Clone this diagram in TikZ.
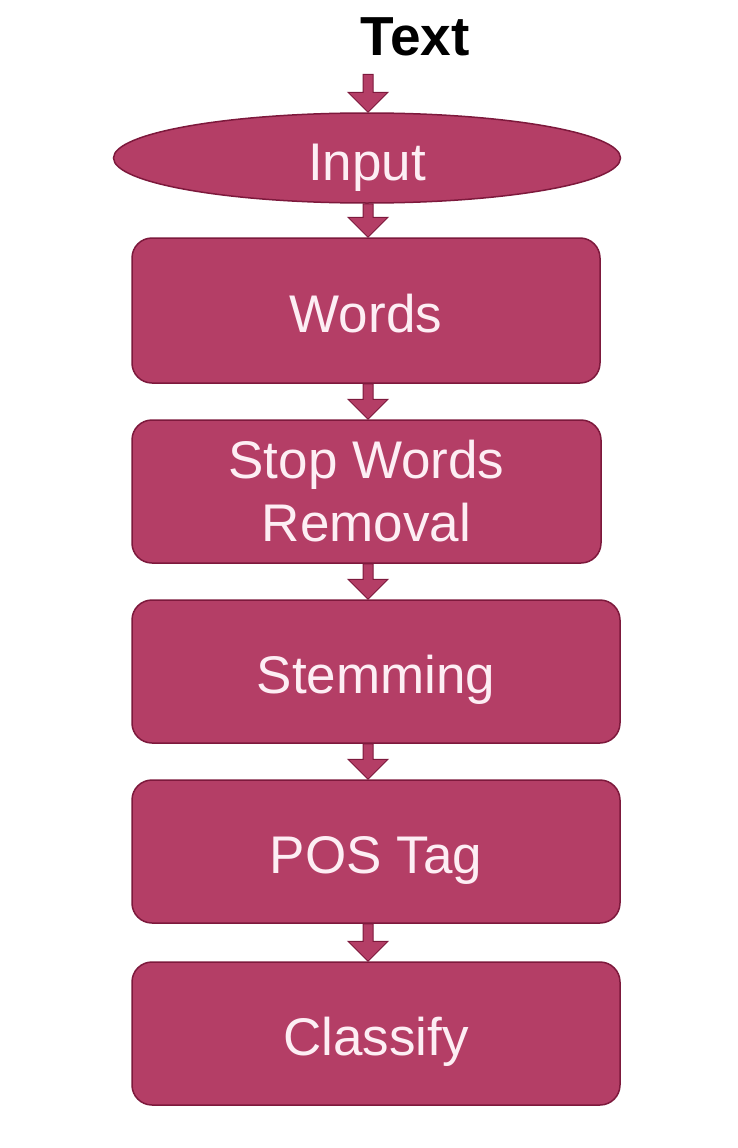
\documentclass[tikz,border=0pt]{standalone}
\usepackage{fontspec}
\setmainfont{Liberation Sans}
\usetikzlibrary{shapes.geometric,calc}
\definecolor{boxfill}{RGB}{180,62,102}
\definecolor{boxline}{RGB}{125,25,60}
\definecolor{boxtext}{RGB}{253,238,244}
\newcommand\flowarrow[2]{%
  \path[blockarrow] let \p1=(ax |- #1.south), \p2=(ax |- #2.north) in
    (\x1-5pt,\y1) -- (\x1+5pt,\y1) -- (\x1+5pt,\y2+20pt) -- (\x1+20pt,\y2+20pt)
    -- (\x1,\y2) -- (\x1-20pt,\y2+20pt) -- (\x1-5pt,\y2+20pt) -- cycle;}
\begin{document}
\begin{tikzpicture}[x=1pt,y=-1pt,
  stepbox/.style={draw=boxline, line width=1.5pt, fill=boxfill, rounded corners=20pt,
    text=boxtext, font=\fontsize{53}{63}\selectfont, align=center, inner sep=0pt},
  oneline/.style={text height=44pt, text depth=0pt},
  inputshape/.style={ellipse, draw=boxline, line width=1.5pt, fill=boxfill, text=boxtext,
    font=\fontsize{53}{63}\selectfont, inner sep=0pt, minimum width=507pt, minimum height=90pt},
  titletext/.style={font=\bfseries\fontsize{55}{60}\selectfont, text=black, inner sep=18pt},
  blockarrow/.style={fill=boxfill, draw=boxline, line width=1pt, line join=miter}]
\useasboundingbox (0,0) rectangle (738,1148);
\coordinate (ax) at (368,0);
\node[titletext] (txt) at (415,37) {Text};
\node[inputshape, oneline] (input) at (367,158) {Input};
\node[stepbox, oneline, minimum width=468pt, minimum height=145pt] (words) at (366,310.5) {Words};
\node[stepbox, minimum width=469pt, minimum height=143pt] (stop) at (366.5,491.5) {Stop Words\\Removal};
\node[stepbox, oneline, minimum width=488pt, minimum height=143pt] (stem) at (376,671.5) {Stemming};
\node[stepbox, oneline, minimum width=488pt, minimum height=143pt] (pos) at (376,851.5) {POS Tag};
\node[stepbox, oneline, minimum width=488pt, minimum height=143pt] (class) at (376,1033.5) {Classify};
\flowarrow{txt}{input}
\flowarrow{input}{words}
\flowarrow{words}{stop}
\flowarrow{stop}{stem}
\flowarrow{stem}{pos}
\flowarrow{pos}{class}
\end{tikzpicture}
\end{document}
